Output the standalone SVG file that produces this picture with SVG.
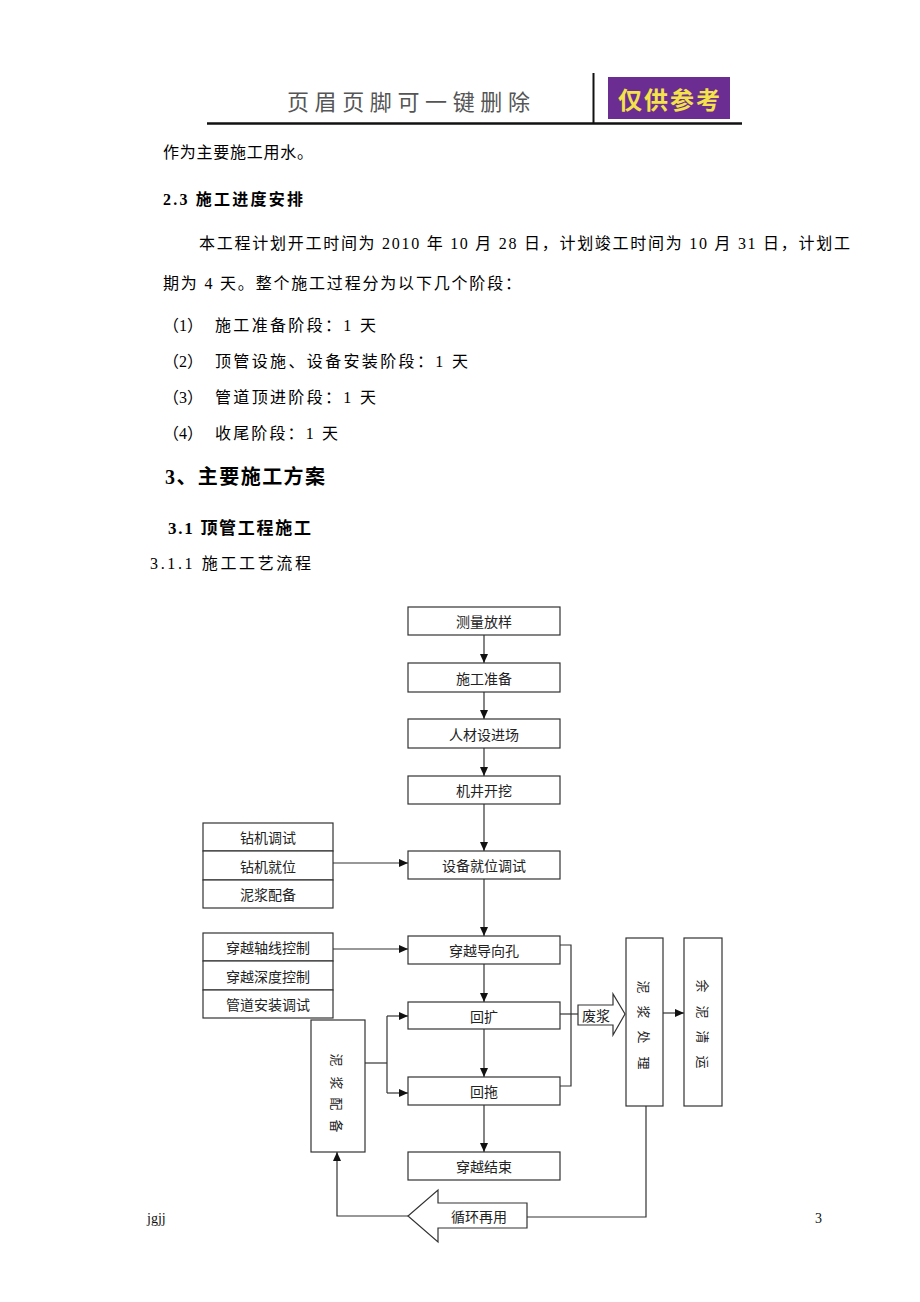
<svg xmlns="http://www.w3.org/2000/svg" width="920" height="1302" viewBox="0 0 920 1302">
<style>
.t{font-family:'Liberation Serif','Noto Sans CJK SC',serif;font-size:16px;fill:#000}
.b{font-weight:bold}
.n{fill:#fff;stroke:#333;stroke-width:1.2}
.nt{font-family:'Noto Sans CJK SC','Liberation Sans',sans-serif;font-size:14px;fill:#222;text-anchor:middle;dominant-baseline:central}
.v{font-size:13px}
.c{fill:none;stroke:#333;stroke-width:1.2}
</style>
<defs>
<marker id="ah" markerWidth="10" markerHeight="10" refX="9" refY="5" orient="auto" markerUnits="userSpaceOnUse">
<path d="M0,1 L9,5 L0,9 Z" fill="#111"/>
</marker>
</defs>
<rect width="920" height="1302" fill="#fff"/>

<g id="header">
<text x="287" y="110" font-family="'Noto Sans CJK SC',sans-serif" font-size="22" fill="#555" textLength="243" lengthAdjust="spacing">页眉页脚可一键删除</text>
<line x1="207" y1="123.5" x2="742" y2="123.5" stroke="#111" stroke-width="2.5"/>
<line x1="593.5" y1="73" x2="593.5" y2="123" stroke="#111" stroke-width="2"/>
<rect x="608" y="77" width="122" height="42" fill="#6b2d91"/>
<text x="669" y="98" font-family="'Noto Sans CJK SC',sans-serif" font-size="24" font-weight="bold" fill="#f3e24a" text-anchor="middle" dominant-baseline="central" textLength="102" lengthAdjust="spacing">仅供参考</text>
</g>

<g id="body">
<text class="t" x="163" y="158" textLength="150" lengthAdjust="spacing">作为主要施工用水。</text>
<text class="t b" x="163" y="205" textLength="140" lengthAdjust="spacing">2.3 施工进度安排</text>
<text class="t" x="199" y="249" textLength="651" lengthAdjust="spacing">本工程计划开工时间为 2010 年 10 月 28 日，计划竣工时间为 10 月 31 日，计划工</text>
<text class="t" x="163" y="289" textLength="358" lengthAdjust="spacing">期为 4 天。整个施工过程分为以下几个阶段：</text>
<text class="t" x="163" y="331">（1）</text>
<text class="t" x="215" y="331" textLength="161" lengthAdjust="spacing">施工准备阶段：1 天</text>
<text class="t" x="163" y="367">（2）</text>
<text class="t" x="215" y="367" textLength="253" lengthAdjust="spacing">顶管设施、设备安装阶段：1 天</text>
<text class="t" x="163" y="403">（3）</text>
<text class="t" x="215" y="403" textLength="161" lengthAdjust="spacing">管道顶进阶段：1 天</text>
<text class="t" x="163" y="439">（4）</text>
<text class="t" x="215" y="439" textLength="123" lengthAdjust="spacing">收尾阶段：1 天</text>
<text class="t b" x="165" y="484" style="font-size:20px" textLength="160" lengthAdjust="spacing">3、主要施工方案</text>
<text class="t b" x="168" y="534" style="font-size:17px" textLength="143" lengthAdjust="spacing">3.1 顶管工程施工</text>
<text class="t" x="150" y="569" textLength="161" lengthAdjust="spacing">3.1.1 施工工艺流程</text>
</g>

<g id="connectors">
<line class="c" x1="484" y1="635" x2="484" y2="663" marker-end="url(#ah)"/>
<line class="c" x1="484" y1="692" x2="484" y2="719" marker-end="url(#ah)"/>
<line class="c" x1="484" y1="748" x2="484" y2="776" marker-end="url(#ah)"/>
<line class="c" x1="484" y1="804" x2="484" y2="851" marker-end="url(#ah)"/>
<line class="c" x1="333" y1="863" x2="408" y2="863" marker-end="url(#ah)"/>
<line class="c" x1="484" y1="879" x2="484" y2="936" marker-end="url(#ah)"/>
<line class="c" x1="333" y1="949" x2="408" y2="949" marker-end="url(#ah)"/>
<line class="c" x1="484" y1="964" x2="484" y2="1002" marker-end="url(#ah)"/>
<line class="c" x1="484" y1="1029" x2="484" y2="1077" marker-end="url(#ah)"/>
<line class="c" x1="484" y1="1105" x2="484" y2="1152" marker-end="url(#ah)"/>
<path class="c" d="M560,945 H571 V1086 H560"/>
<path class="c" d="M560,1014 H578"/>
<path class="c" d="M365,1063 H387"/>
<path class="c" d="M387,1016 V1093"/>
<line class="c" x1="387" y1="1016" x2="408" y2="1016" marker-end="url(#ah)"/>
<line class="c" x1="387" y1="1093" x2="408" y2="1093" marker-end="url(#ah)"/>
<line class="c" x1="663" y1="1013" x2="684" y2="1013" marker-end="url(#ah)"/>
<path class="c" d="M646,1106 V1217 H527"/>
<path class="c" d="M408,1216 H337 V1152" marker-end="url(#ah)"/>
</g>

<g id="n1"><rect class="n" x="408" y="607" width="152" height="28"/><text class="nt" x="484" y="621">测量放样</text></g>
<g id="n2"><rect class="n" x="408" y="663" width="152" height="29"/><text class="nt" x="484" y="677.5">施工准备</text></g>
<g id="n3"><rect class="n" x="408" y="719" width="152" height="29"/><text class="nt" x="484" y="733.5">人材设进场</text></g>
<g id="n4"><rect class="n" x="408" y="776" width="152" height="28"/><text class="nt" x="484" y="790">机井开挖</text></g>
<g id="n5"><rect class="n" x="408" y="851" width="152" height="28"/><text class="nt" x="484" y="865">设备就位调试</text></g>
<g id="n6"><rect class="n" x="408" y="936" width="152" height="28"/><text class="nt" x="484" y="950">穿越导向孔</text></g>
<g id="n7"><rect class="n" x="408" y="1002" width="152" height="27"/><text class="nt" x="484" y="1015.5">回扩</text></g>
<g id="n8"><rect class="n" x="408" y="1077" width="152" height="28"/><text class="nt" x="484" y="1091">回拖</text></g>
<g id="n9"><rect class="n" x="408" y="1152" width="152" height="28"/><text class="nt" x="484" y="1166">穿越结束</text></g>

<g id="prep1">
<rect class="n" x="203" y="823" width="130" height="28"/><text class="nt" x="268" y="837">钻机调试</text>
<rect class="n" x="203" y="851" width="130" height="29"/><text class="nt" x="268" y="865.5">钻机就位</text>
<rect class="n" x="203" y="880" width="130" height="28"/><text class="nt" x="268" y="894">泥浆配备</text>
</g>
<g id="prep2">
<rect class="n" x="203" y="933" width="130" height="28"/><text class="nt" x="268" y="947">穿越轴线控制</text>
<rect class="n" x="203" y="961" width="130" height="29"/><text class="nt" x="268" y="975.5">穿越深度控制</text>
<rect class="n" x="203" y="990" width="130" height="28"/><text class="nt" x="268" y="1004">管道安装调试</text>
</g>

<g id="mud-prep">
<rect class="n" x="311" y="1020" width="54" height="132"/>
<text class="nt v" transform="translate(337,1060) rotate(90)">泥</text>
<text class="nt v" transform="translate(337,1083) rotate(90)">浆</text>
<text class="nt v" transform="translate(337,1104) rotate(90)">配</text>
<text class="nt v" transform="translate(337,1126) rotate(90)">备</text>
</g>

<g id="waste">
<polygon class="n" points="578,1005 613,1005 613,994 625,1014 613,1035 613,1025 578,1025"/>
<text class="nt" x="596" y="1015">废浆</text>
</g>

<g id="mud-treat">
<rect class="n" x="626" y="938" width="37" height="168"/>
<text class="nt v" transform="translate(644,987) rotate(90)">泥</text>
<text class="nt v" transform="translate(644,1012) rotate(90)">浆</text>
<text class="nt v" transform="translate(644,1037) rotate(90)">处</text>
<text class="nt v" transform="translate(644,1063) rotate(90)">理</text>
</g>

<g id="residue">
<rect class="n" x="684" y="938" width="38" height="168"/>
<text class="nt v" transform="translate(703,986) rotate(90)">余</text>
<text class="nt v" transform="translate(703,1012) rotate(90)">泥</text>
<text class="nt v" transform="translate(703,1037) rotate(90)">清</text>
<text class="nt v" transform="translate(703,1062) rotate(90)">运</text>
</g>

<g id="recycle">
<polygon class="n" points="527,1203 438,1203 438,1190 408,1216 438,1242 438,1228 527,1228"/>
<text class="nt" x="479" y="1216">循环再用</text>
</g>

<g id="footer">
<text x="147" y="1223" font-family="'Liberation Serif',serif" font-size="14" fill="#111">jgjj</text>
<text x="815" y="1223" font-family="'Liberation Serif',serif" font-size="14" fill="#111">3</text>
</g>
</svg>
